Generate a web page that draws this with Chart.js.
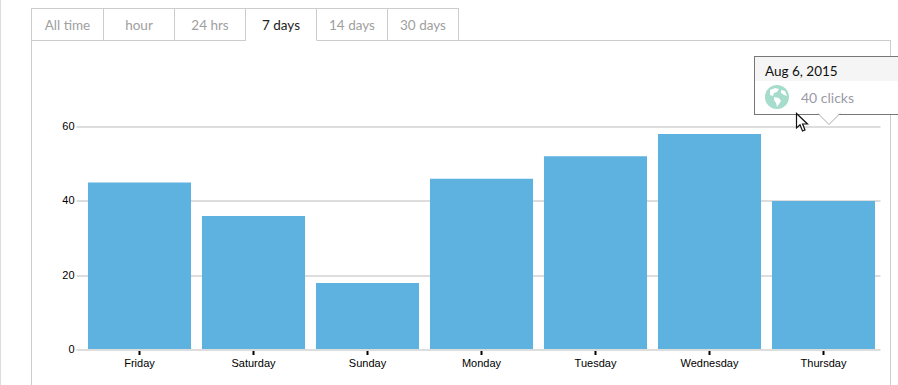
<!DOCTYPE html>
<html>
<head>
<meta charset="utf-8">
<script src="https://cdn.jsdelivr.net/npm/chart.js@4/dist/chart.umd.js"></script>
<style>
  html, body { margin: 0; padding: 0; background: #fff; overflow: hidden; }
  body { width: 898px; height: 385px; position: relative; font-family: Lato, sans-serif; }
  #strip { position: absolute; left: 0; top: 0; width: 1px; height: 385px; background: #ddd; }
  #tabs { position: absolute; left: 31px; top: 8px; display: flex; height: 32px; }
  .tab { width: 70px; height: 31px; line-height: 33px; text-align: center; font-size: 13.5px; color: #a0a0a0;
         border: 1px solid #ccc; border-left: 0; background: #fff; }
  .tab:first-child { width: 71px; border-left: 1px solid #ccc; }
  .tab.active { color: #222; border-bottom: 1px solid #fff; position: relative; z-index: 2; }
  #panel { position: absolute; left: 31px; top: 40px; width: 858px; height: 350px; border: 1px solid #ccc; }
  #chartBox { position: absolute; left: 32px; top: 41px; width: 857px; height: 344px; }
  #tip { position: absolute; left: 754px; top: 56px; width: 150px; height: 57px; background: #fff; border: 1px solid #777; }
  #tipHead { height: 24px; line-height: 29px; background: #f5f5f5; padding-left: 10px; font-size: 13.5px; color: #111; }
  #tipBody { position: absolute; left: 46px; top: 32px; font-size: 14px; color: #9a9aa8; }
  #globe { position: absolute; left: 10px; top: 28px; }
  #arrow { position: absolute; left: 817px; top: 113px; }
  #cursor { position: absolute; left: 795px; top: 112px; }
</style>
</head>
<body>
<div id="strip"></div>
<div id="panel"></div>
<div id="tabs"></div>
<div id="chartBox"><canvas id="clicksChart"></canvas></div>
<div id="tip">
  <div id="tipHead">Aug 6, 2015</div>
  <svg id="globe" width="24" height="24" viewBox="0 0 24 24">
    <circle cx="12" cy="12" r="12" fill="#a5dccb"/>
    <path d="M5 5 L10 3 L14 4 L12 7 L9 8 L8 11 L5 10 Z M9 12 L14 13 L16 16 L14 19 L12 22 L11 18 L9 15 Z M16 5 L20 6 L22 11 L19 10 L16 8 Z" fill="#fff"/>
  </svg>
  <div id="tipBody">40 clicks</div>
</div>
<svg id="arrow" width="24" height="14" viewBox="0 0 24 14">
  <path d="M1 0 L12 11.5 L23 0 Z" fill="#fff"/>
  <path d="M1 0.5 L12 11.5 L23 0.5" fill="none" stroke="#aaa" stroke-width="1"/>
</svg>
<svg id="cursor" width="16" height="22" viewBox="0 0 16 22">
  <path d="M1.5 1.5 L1.5 16 L5 12.8 L7.5 19 L10 18 L7.6 12 L12.5 12 Z" fill="#fff" stroke="#111" stroke-width="1.2"/>
</svg>
<script>
const tabLabels = ['All time', 'hour', '24 hrs', '7 days', '14 days', '30 days'];
const activeTab = '7 days';
const categories = ['Friday', 'Saturday', 'Sunday', 'Monday', 'Tuesday', 'Wednesday', 'Thursday'];
const clicks = [45, 36, 18, 46, 52, 58, 40];
const yTicks = [0, 20, 40, 60];

const tabs = document.getElementById('tabs');
tabLabels.forEach(label => {
  const el = document.createElement('div');
  el.className = label === activeTab ? 'tab active' : 'tab';
  el.textContent = label;
  tabs.appendChild(el);
});

// opaque canvas so the labels get the same text rendering as the page
const canvas = document.getElementById('clicksChart');
canvas.getContext('2d', { alpha: false });

const whiteBackground = {
  id: 'whiteBackground',
  beforeDraw(chart) {
    chart.ctx.save();
    chart.ctx.fillStyle = '#fff';
    chart.ctx.fillRect(0, 0, chart.width, chart.height);
    chart.ctx.restore();
  }
};

new Chart(canvas, {
  type: 'bar',
  data: {
    labels: categories,
    datasets: [{
      data: clicks,
      backgroundColor: '#5eb2df',
      categoryPercentage: 1,
      barPercentage: 0.904
    }]
  },
  plugins: [whiteBackground],
  options: {
    responsive: true,
    maintainAspectRatio: false,
    animation: false,
    layout: { padding: { top: 85.5, right: 8.5, left: 0, bottom: 0 } },
    plugins: { legend: { display: false }, tooltip: { enabled: false } },
    scales: {
      x: {
        offset: true,
        afterFit: scale => { scale.height = 35; },
        border: { display: false },
        grid: { offset: false, drawOnChartArea: false, tickColor: '#000', tickLength: 5, tickWidth: 2 },
        ticks: { color: '#000', font: { family: 'Liberation Sans', size: 11 }, padding: 2, maxRotation: 0 }
      },
      y: {
        min: 0,
        max: 60,
        afterFit: scale => { scale.width = 50.5; },
        afterBuildTicks: scale => { scale.ticks = yTicks.map(value => ({ value })); },
        border: { display: false },
        grid: { color: '#ddd', lineWidth: 2, tickLength: 6 },
        ticks: { color: '#000', font: { family: 'Liberation Sans', size: 11 }, padding: 2 }
      }
    }
  }
});
</script>
</body>
</html>
